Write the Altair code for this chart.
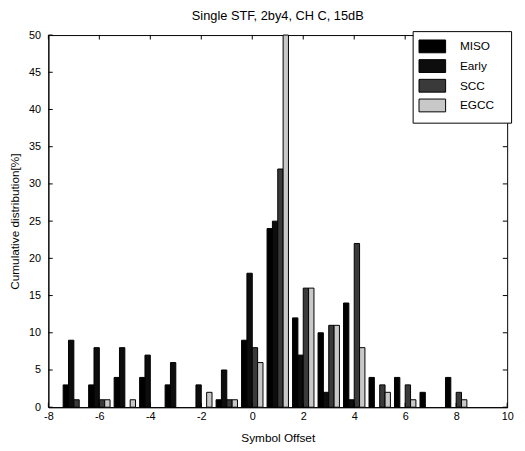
import altair as alt
import pandas as pd

# ---- data ----
offsets = list(range(-7, 9))
miso  = [3, 3, 4, 4, 3, 0, 1, 9, 24, 12, 10, 14, 4, 4, 2, 4]
early = [9, 8, 8, 7, 6, 3, 5, 18, 25, 7, 2, 1, 0, 0, 0, 0]
scc   = [1, 1, 0, 0, 0, 0, 1, 8, 32, 16, 11, 22, 3, 3, 0, 2]
egcc  = [0, 1, 1, 0, 0, 2, 1, 6, 50, 16, 11, 8, 2, 1, 0, 1]
series = ["MISO", "Early", "SCC", "EGCC"]
colors = ["#000000", "#0d0d0d", "#3a3a3a", "#c8c8c8"]
x_ticks = list(range(-8, 11, 2))
y_ticks = list(range(0, 51, 5))

rows = []
for k, (name, vals) in enumerate(zip(series, [miso, early, scc, egcc])):
    for o, v in zip(offsets, vals):
        rows.append({"offset": o, "series": name, "k": k, "value": v})
df = pd.DataFrame(rows)

BW = 0.21
FONT = "Liberation Sans"
xs = alt.Scale(domain=[-8, 10], nice=False, zero=False)
ys = alt.Scale(domain=[0, 50], nice=False)
x_axis = alt.Axis(values=x_ticks, title="Symbol Offset", labelPadding=4,
                  titlePadding=11, labelFlush=False,
                  labelExpr="datum.value < 0 ? '-' + abs(datum.value) : '' + datum.value")
y_axis = alt.Axis(values=y_ticks, title="Cumulative distribution[%]",
                  labelPadding=8, titlePadding=7, labelFlush=False)

bars = alt.Chart(df).transform_filter("datum.value > 0").transform_calculate(
    x0=f"datum.offset + (datum.k - 2) * {BW}",
    x1=f"datum.offset + (datum.k - 1) * {BW}",
    base="0",
).mark_rect(stroke="black", strokeWidth=1).encode(
    x=alt.X("x0:Q", scale=xs, axis=x_axis),
    x2="x1:Q",
    y=alt.Y("value:Q", scale=ys, axis=y_axis),
    y2="base:Q",
    fill=alt.Fill("series:N", sort=series,
                  scale=alt.Scale(domain=series, range=colors),
                  legend=alt.Legend(
                      title=None, orient="none", legendX=370, legendY=-4,
                      strokeColor="black", fillColor="white", padding=8,
                      symbolType="M-1.29,-0.93L2.57,-0.93L2.57,0.93L-1.29,0.93Z",
                      symbolSize=196, symbolStrokeColor="black",
                      symbolStrokeWidth=1, labelOffset=25, rowPadding=1,
                      labelFontSize=12, labelFont=FONT, labelColor="black",
                      labelExpr="datum.label + '\u2800'")),
)

xt = pd.DataFrame({"t": x_ticks})
yt = pd.DataFrame({"t": y_ticks})

def xtick(lo, hi):
    return alt.Chart(xt).mark_rule(color="black", strokeWidth=1).encode(
        x=alt.X("t:Q", scale=xs, axis=x_axis),
        y=alt.Y("a:Q", scale=ys, axis=y_axis), y2="b:Q",
    ).transform_calculate(a=str(lo), b=str(hi))

def ytick(lo, hi):
    return alt.Chart(yt).mark_rule(color="black", strokeWidth=1).encode(
        y=alt.Y("t:Q", scale=ys, axis=y_axis),
        x=alt.X("a:Q", scale=xs, axis=x_axis), x2="b:Q",
    ).transform_calculate(a=str(lo), b=str(hi))

chart = alt.layer(
    bars,
    xtick(0, 0.6), xtick(49.4, 50),
    ytick(-8, -7.83), ytick(9.83, 10),
).properties(
    width=466, height=378,
    title=alt.Title("Single STF, 2by4, CH C, 15dB", fontSize=13, font=FONT,
                    fontWeight="normal", color="black", offset=6),
    autosize=alt.AutoSizeParams(type="none"),
    padding={"left": 41, "top": 24, "right": 10, "bottom": 41},
).configure_view(
    stroke="black", strokeWidth=1
).configure_axis(
    grid=False, tickSize=0, domainColor="black", labelColor="black",
    titleColor="black", labelFont=FONT, titleFont=FONT, labelFontSize=11,
    titleFontSize=12, titleFontWeight="normal"
)

chart.save("out.html", embed_options={"renderer": "svg", "actions": False})
